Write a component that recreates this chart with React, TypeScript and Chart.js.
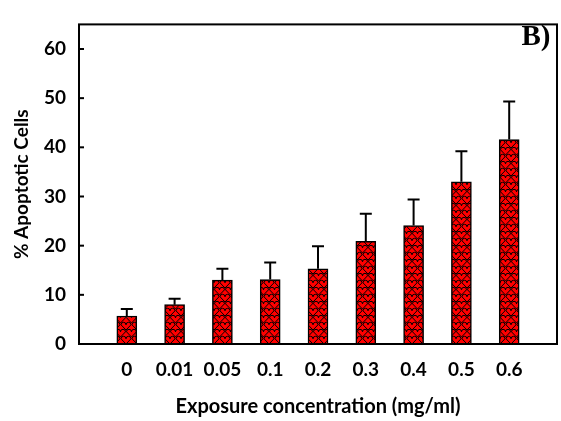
import React, { useEffect, useRef } from "react";
import { Chart, registerables } from "chart.js";

Chart.register(...registerables);

const categories = ["0", "0.01", "0.05", "0.1", "0.2", "0.3", "0.4", "0.5", "0.6"];
const meanValues = [5.7, 8.0, 13.0, 13.1, 15.3, 20.9, 24.1, 33.0, 41.6];
const errorValues = [1.4, 1.2, 2.3, 3.5, 4.6, 5.6, 5.3, 6.2, 7.7];
const yTickValues = [0, 10, 20, 30, 40, 50, 60];

const FONT = "Lato";

function makePattern(): CanvasPattern | string {
  const W = 11;
  const H = 14;
  const tile = document.createElement("canvas");
  tile.width = W;
  tile.height = H;
  const c = tile.getContext("2d");
  if (!c) return "#ff0000";
  c.fillStyle = "#ff0000";
  c.fillRect(0, 0, W, H);
  c.strokeStyle = "#000000";
  c.lineWidth = 1;
  const heart = (ox: number, oy: number) => {
    c.beginPath();
    c.arc(ox + 2.5, oy + 2.8, 2.5, Math.PI, 0);
    c.arc(ox + 7.5, oy + 2.8, 2.5, Math.PI, 0);
    c.lineTo(ox + 5, oy + 8);
    c.closePath();
    c.stroke();
  };
  for (const dx of [-W, 0, W]) {
    for (const dy of [-H, 0, H]) {
      heart(dx, dy);
      heart(dx + W / 2, dy + H / 2);
    }
  }
  const p = c.createPattern(tile, "repeat");
  return p || "#ff0000";
}

const frameAndErrors = {
  id: "frameAndErrors",
  afterDatasetsDraw(chart: any) {
    const { ctx, chartArea, scales } = chart;
    const meta = chart.getDatasetMeta(0);
    ctx.save();
    ctx.strokeStyle = "#000";
    ctx.lineWidth = 2;
    meta.data.forEach((bar: any, i: number) => {
      const top = scales.y.getPixelForValue(meanValues[i]);
      const cap = scales.y.getPixelForValue(meanValues[i] + errorValues[i]);
      ctx.beginPath();
      ctx.moveTo(bar.x, top);
      ctx.lineTo(bar.x, cap);
      ctx.moveTo(bar.x - 6, cap);
      ctx.lineTo(bar.x + 6, cap);
      ctx.stroke();
    });
    ctx.lineWidth = 2;
    ctx.strokeRect(chartArea.left, chartArea.top, chartArea.right - chartArea.left, chartArea.bottom - chartArea.top);
    yTickValues.forEach((v) => {
      const y = scales.y.getPixelForValue(v);
      ctx.beginPath();
      ctx.moveTo(chartArea.left, y);
      ctx.lineTo(chartArea.left + 5, y);
      ctx.stroke();
    });
    ctx.fillStyle = "#000";
    ctx.font = "bold 29px 'Liberation Serif'";
    ctx.textAlign = "center";
    ctx.textBaseline = "alphabetic";
    ctx.fillText("B)", 536, 45);
    ctx.restore();
  },
};

export default function App() {
  const ref = useRef<HTMLCanvasElement>(null);
  useEffect(() => {
    if (!ref.current) return;
    const chart = new Chart(ref.current, {
      type: "bar",
      data: {
        datasets: [
          {
            data: meanValues.map((v, i) => ({ x: i + 1, y: v })),
            backgroundColor: makePattern() as any,
            borderColor: "#000",
            borderWidth: 1.5,
            barThickness: 20,
          },
        ],
      },
      options: {
        responsive: false,
        animation: false,
        layout: { padding: { top: 8, right: 4, left: 0, bottom: 0 } },
        plugins: { legend: { display: false }, tooltip: { enabled: false } },
        scales: {
          x: {
            type: "linear",
            offset: false,
            min: 0,
            max: 10,
            grid: { display: false, drawTicks: false },
            border: { display: false },
            afterBuildTicks: (scale: any) => {
              scale.ticks = categories.map((_, i) => ({ value: i + 1 }));
            },
            afterFit: (scale: any) => {
              scale.height = 77;
            },
            ticks: {
              autoSkip: false,
              maxRotation: 0,
              padding: 14,
              color: "#000",
              font: { family: FONT, size: 19, weight: "bold" },
              callback: (v: any) => categories[Number(v) - 1] ?? "",
            },
            title: {
              display: true,
              text: "Exposure concentration (mg/ml)",
              color: "#000",
              font: { family: FONT, size: 20, weight: "bold" },
              padding: { top: 0, bottom: 2 },
            },
          },
          y: {
            min: 0,
            max: 65,
            grid: { display: false, drawTicks: false },
            border: { display: false },
            afterBuildTicks: (scale: any) => {
              scale.ticks = yTickValues.map((v) => ({ value: v }));
            },
            afterFit: (scale: any) => {
              scale.width = 79;
            },
            ticks: {
              padding: 13,
              color: "#000",
              font: { family: FONT, size: 19, weight: "bold" },
            },
            title: {
              display: true,
              text: "% Apoptotic Cells",
              color: "#000",
              font: { family: FONT, size: 19, weight: "bold" },
              padding: { top: 10, bottom: 0 },
            },
          },
        },
      } as any,
      plugins: [frameAndErrors],
    });
    return () => chart.destroy();
  }, []);
  return (
    <div style={{ position: "fixed", left: 0, top: 0, width: 561, height: 421, background: "#fff" }}>
      <canvas ref={ref} width={561} height={421} />
    </div>
  );
}
